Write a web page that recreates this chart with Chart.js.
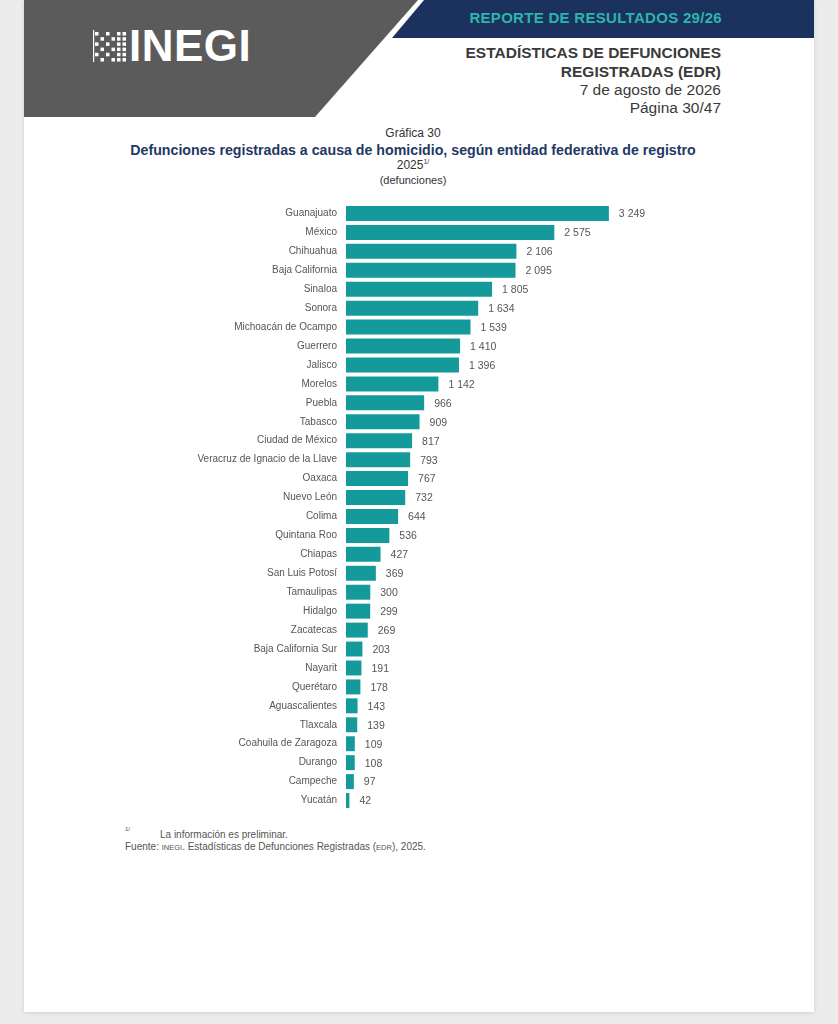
<!DOCTYPE html>
<html lang="es">
<head>
<meta charset="utf-8">
<title>Gráfica 30 - Defunciones por homicidio</title>
<script src="https://cdn.jsdelivr.net/npm/chart.js@4.4.1/dist/chart.umd.min.js"></script>
<style>
  html, body { margin: 0; padding: 0; }
  body { width: 838px; height: 1024px; background: #ececec; font-family: "Liberation Sans", Arial, sans-serif; position: relative; overflow: hidden; }
  .page { position: absolute; left: 24px; top: 0; width: 790px; height: 1012px; background: #fff; box-shadow: 0 1px 4px rgba(0,0,0,0.12); }
  .abs { position: absolute; white-space: nowrap; }
  .hdr-right { right: 117px; text-align: right; color: #3a3a3a; font-size: 15.5px; line-height: 18px; }
  .center { left: 0; width: 826px; text-align: center; }
  #chartBox { position: absolute; left: 180px; top: 189px; width: 522px; height: 636px; }
</style>
</head>
<body>
<div class="page"></div>

<svg class="abs" style="left:0;top:0" width="838" height="120">
  <polygon points="24,0 418,0 315,117 24,117" fill="#5b5b5b"/>
  <polygon points="424,0 814,0 814,38 392,38" fill="#1b315e"/>
  <g id="dots" fill="#ffffff"></g>
</svg>
<div class="abs" style="left:129px;top:21px;color:#fff;font-weight:bold;font-size:44px;letter-spacing:0.5px;">INEGI</div>

<div class="abs" style="right:116px;top:9px;color:#2bb5ad;font-weight:bold;font-size:15px;letter-spacing:0.3px;">REPORTE DE RESULTADOS 29/26</div>
<div class="abs hdr-right" style="top:44px;font-weight:bold;">ESTADÍSTICAS DE DEFUNCIONES</div>
<div class="abs hdr-right" style="top:63px;font-weight:bold;">REGISTRADAS (EDR)</div>
<div class="abs hdr-right" style="top:81px;">7 de agosto de 2026</div>
<div class="abs hdr-right" style="top:99px;">Página 30/47</div>

<div class="abs center" style="top:126px;font-size:12px;color:#333;">Gráfica 30</div>
<div class="abs center" style="top:142px;font-size:14.2px;font-weight:bold;color:#1f3864;">Defunciones registradas a causa de homicidio, según entidad federativa de registro</div>
<div class="abs center" style="top:158px;font-size:12px;color:#333;">2025<sup style="font-size:7px;">1/</sup></div>
<div class="abs center" style="top:174px;font-size:11px;color:#333;">(defunciones)</div>

<div id="chartBox"><canvas id="homicidios"></canvas></div>

<div class="abs" style="left:125px;top:826px;font-size:6px;color:#555;">1/</div>
<div class="abs" style="left:160px;top:829px;font-size:10px;color:#555;">La información es preliminar.</div>
<div class="abs" style="left:125px;top:841px;font-size:10px;color:#555;">Fuente: <span style="font-size:7.5px;">INEGI</span>. Estadísticas de Defunciones Registradas (<span style="font-size:7.5px;">EDR</span>), 2025.</div>

<script>
// Data
const entidades = [
  'Guanajuato', 'México', 'Chihuahua', 'Baja California', 'Sinaloa', 'Sonora',
  'Michoacán de Ocampo', 'Guerrero', 'Jalisco', 'Morelos', 'Puebla', 'Tabasco',
  'Ciudad de México', 'Veracruz de Ignacio de la Llave', 'Oaxaca', 'Nuevo León',
  'Colima', 'Quintana Roo', 'Chiapas', 'San Luis Potosí', 'Tamaulipas', 'Hidalgo',
  'Zacatecas', 'Baja California Sur', 'Nayarit', 'Querétaro', 'Aguascalientes',
  'Tlaxcala', 'Coahuila de Zaragoza', 'Durango', 'Campeche', 'Yucatán'
];
const defunciones = [
  3249, 2575, 2106, 2095, 1805, 1634,
  1539, 1410, 1396, 1142, 966, 909,
  817, 793, 767, 732,
  644, 536, 427, 369, 300, 299,
  269, 203, 191, 178, 143,
  139, 109, 108, 97, 42
];
const ejeMax = 4400;

// INEGI logo dot pattern
const dots = document.getElementById('dots');
for (let c = 0; c < 6; c++) {
  for (let r = 0; r < 6; r++) {
    if ((c + r) % 2 === 0 || c > 3) {
      const d = document.createElementNS('http://www.w3.org/2000/svg', 'rect');
      d.setAttribute('x', 95 + c * 5.5);
      d.setAttribute('y', 32 + r * 5.2);
      d.setAttribute('width', 3.5);
      d.setAttribute('height', 3.5);
      dots.appendChild(d);
    }
  }
}
const bar = document.createElementNS('http://www.w3.org/2000/svg', 'rect');
bar.setAttribute('x', 93); bar.setAttribute('y', 30); bar.setAttribute('width', 1.2); bar.setAttribute('height', 32);
dots.appendChild(bar);

const fmt = v => String(v).replace(/\B(?=(\d{3})+(?!\d))/g, ' ');

// Value labels next to the bars
const valueLabels = {
  id: 'valueLabels',
  afterDatasetsDraw(chart) {
    const { ctx } = chart;
    const meta = chart.getDatasetMeta(0);
    ctx.save();
    ctx.font = '10.5px "Liberation Sans", Arial, sans-serif';
    ctx.fillStyle = '#555';
    ctx.textAlign = 'left';
    ctx.textBaseline = 'middle';
    meta.data.forEach((el, i) => {
      ctx.fillText(fmt(chart.data.datasets[0].data[i]), el.x + 10, el.y + 1);
    });
    ctx.restore();
  }
};

new Chart(document.getElementById('homicidios'), {
  type: 'bar',
  data: {
    labels: entidades,
    datasets: [{
      data: defunciones,
      backgroundColor: '#149a9b',
      categoryPercentage: 1,
      barPercentage: 0.79
    }]
  },
  options: {
    indexAxis: 'y',
    responsive: true,
    maintainAspectRatio: false,
    animation: false,
    layout: { padding: { top: 3.5, bottom: 4.5, left: 0, right: 0 } },
    plugins: { legend: { display: false }, tooltip: { enabled: false } },
    scales: {
      x: { display: false, min: 0, max: ejeMax },
      y: {
        grid: { display: false, drawTicks: false },
        border: { display: false },
        ticks: {
          color: '#555',
          padding: 9,
          font: { size: 10, family: '"Liberation Sans", Arial, sans-serif' },
          autoSkip: false
        },
        afterFit(scale) { scale.width = 166; }
      }
    }
  },
  plugins: [valueLabels]
});
</script>
</body>
</html>
